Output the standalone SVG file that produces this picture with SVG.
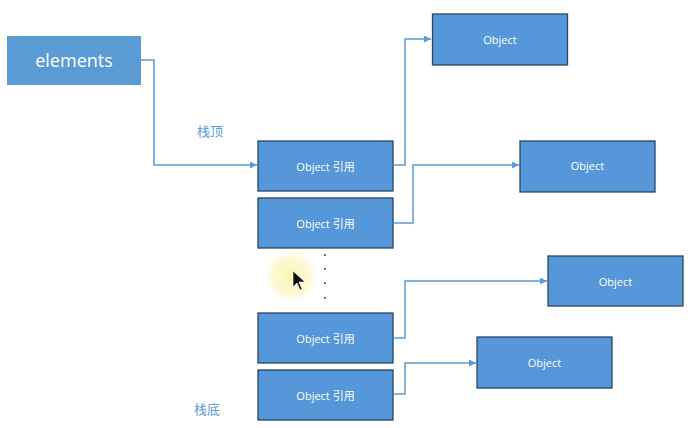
<svg xmlns="http://www.w3.org/2000/svg" width="696" height="428" viewBox="0 0 696 428">
<defs>
<marker id="arr" viewBox="0 0 10 10" refX="10" refY="5" markerWidth="7" markerHeight="7" markerUnits="userSpaceOnUse" orient="auto"><path d="M0,0 L10,5 L0,10 z" fill="#5b9bd5"/></marker>
<radialGradient id="halo"><stop offset="0" stop-color="#fbf3a8" stop-opacity="0.9"/><stop offset="0.7" stop-color="#fcf6c4" stop-opacity="0.7"/><stop offset="1" stop-color="#fffbe0" stop-opacity="0"/></radialGradient>
</defs>
<style>
.box{fill:#5597d8;stroke:#2b4563;stroke-width:1.3}
.t{font-family:"Open Sans","Noto Sans CJK SC",sans-serif;font-size:11px;fill:#ffffff;text-anchor:middle;dominant-baseline:central}
.c{fill:none;stroke:#5b9bd5;stroke-width:1.5}
.lbl{font-family:"Noto Sans CJK SC",sans-serif;font-size:13px;fill:#5b9bd5;text-anchor:middle;dominant-baseline:central}
.dot{fill:#444}
</style>
<rect width="696" height="428" fill="#ffffff"/>
<circle cx="291" cy="276" r="27" fill="url(#halo)"/>
<g id="elements"><rect x="7" y="36" width="134" height="49" fill="#5b9bd5"/><text x="74" y="60" class="t" style="font-size:18px">elements</text></g>
<g id="ref1"><rect class="box" x="258" y="141" width="135" height="50"/><text class="t" x="325.5" y="166">Object 引用</text></g>
<g id="ref2"><rect class="box" x="258" y="198" width="135" height="50"/><text class="t" x="325.5" y="223">Object 引用</text></g>
<g id="ref3"><rect class="box" x="258" y="313" width="135" height="50"/><text class="t" x="325.5" y="338">Object 引用</text></g>
<g id="ref4"><rect class="box" x="258" y="370" width="135" height="50"/><text class="t" x="325.5" y="395">Object 引用</text></g>
<g id="obj1"><rect class="box" x="432.5" y="14" width="135" height="51"/><text class="t" x="500" y="39">Object</text></g>
<g id="obj2"><rect class="box" x="520" y="141" width="135" height="51"/><text class="t" x="587.5" y="165">Object</text></g>
<g id="obj3"><rect class="box" x="548" y="256" width="135" height="50"/><text class="t" x="615.5" y="281">Object</text></g>
<g id="obj4"><rect class="box" x="477" y="337" width="135" height="51"/><text class="t" x="544.5" y="362">Object</text></g>
<g id="dots"><circle class="dot" cx="325" cy="255" r="1"/><circle class="dot" cx="325" cy="269" r="1"/><circle class="dot" cx="325" cy="283" r="1"/><circle class="dot" cx="325" cy="298" r="1"/></g>
<text class="lbl" x="210" y="130">栈顶</text>
<text class="lbl" x="207" y="408">栈底</text>
<g id="connectors">
<path class="c" d="M141,60 H154 V165 H257" marker-end="url(#arr)"/>
<path class="c" d="M393,165 H405 V39 H431" marker-end="url(#arr)"/>
<path class="c" d="M393,223 H413 V165 H519" marker-end="url(#arr)"/>
<path class="c" d="M393,338 H405 V281 H547" marker-end="url(#arr)"/>
<path class="c" d="M393,394 H405 V363 H476" marker-end="url(#arr)"/>
</g>
<path d="M293,271 L293,287 L297,283 L300,290 L302,289 L299,282 L305,282 Z" fill="#111" stroke="#fff" stroke-width="0.6"/>
</svg>
